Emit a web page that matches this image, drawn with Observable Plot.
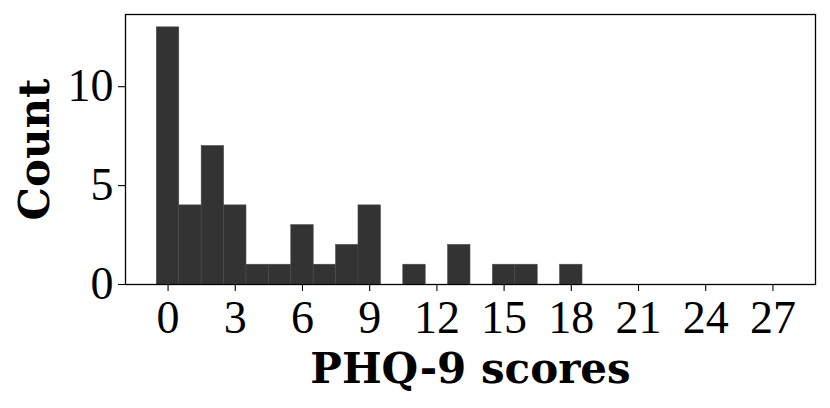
<!DOCTYPE html>
<html>
<head>
<meta charset="utf-8">
<script src="https://cdn.jsdelivr.net/npm/d3@7"></script>
<script src="https://cdn.jsdelivr.net/npm/@observablehq/plot@0.6"></script>
<style>
  html, body { margin: 0; padding: 0; background: #fff; }
  #chart svg { display: block; }
</style>
</head>
<body>
<div id="chart"></div>
<script>
const scores = [0, 1, 2, 3, 4, 5, 6, 7, 8, 9, 10, 11, 12, 13, 14, 15, 16, 17, 18];
const counts = [13, 4, 7, 4, 1, 1, 3, 1, 2, 4, 0, 1, 0, 2, 0, 1, 1, 0, 1];
const xTicks = [0, 3, 6, 9, 12, 15, 18, 21, 24, 27];
const yTicks = [0, 5, 10];
const xLabel = "PHQ-9 scores";
const yLabel = "Count";

const data = scores.map((s, i) => ({score: s, count: counts[i]}));

const tickFont = "'Liberation Serif', 'DejaVu Serif', serif";
const labelFont = "'DejaVu Serif', serif";

const chart = Plot.plot({
  width: 830,
  height: 408,
  marginLeft: 125,
  marginRight: 15,
  marginTop: 14,
  marginBottom: 124,
  style: {background: "#fff", color: "#000", overflow: "visible"},
  x: {domain: [-1.9, 28.9]},
  y: {domain: [0, 13.65]},
  marks: [
    Plot.rectY(data.filter(d => d.count > 0), {
      x1: d => d.score - 0.5,
      x2: d => d.score + 0.5,
      y1: 0,
      y2: "count",
      fill: "#333333",
      stroke: "#4a4a4a",
      strokeWidth: 0.6
    }),
    Plot.axisX(xTicks, {
      tickSize: 7,
      tickPadding: 8.5,
      fontSize: 46,
      fontFamily: tickFont,
      stroke: "#000",
      strokeWidth: 1.1,
      label: null
    }),
    Plot.axisY(yTicks, {
      tickSize: 7,
      tickPadding: 5,
      fontSize: 46,
      fontFamily: tickFont,
      stroke: "#000",
      strokeWidth: 1.1,
      label: null
    }),
    Plot.frame({stroke: "#000", strokeWidth: 1.3}),
    Plot.text([xLabel], {
      frameAnchor: "bottom",
      lineAnchor: "bottom",
      dy: 98,
      fontSize: 42,
      fontWeight: "bold",
      fontFamily: labelFont,
      fill: "#000"
    }),
    Plot.text([yLabel], {
      frameAnchor: "left",
      textAnchor: "middle",
      lineAnchor: "bottom",
      rotate: -90,
      dx: -77,
      fontSize: 42,
      fontWeight: "bold",
      fontFamily: labelFont,
      fill: "#000"
    })
  ]
});
document.getElementById("chart").appendChild(chart);
</script>
</body>
</html>
